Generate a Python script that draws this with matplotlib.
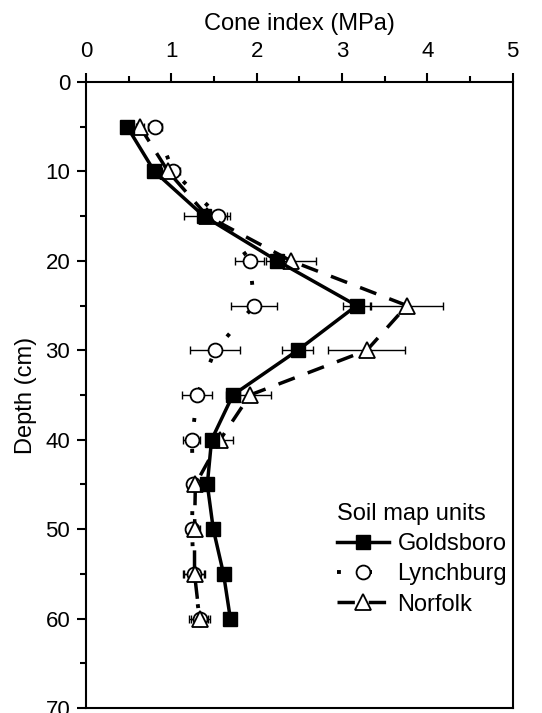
import matplotlib
matplotlib.use("Agg")
import matplotlib.pyplot as plt
from matplotlib.ticker import MultipleLocator

plt.rcParams["font.family"] = ["Liberation Sans", "DejaVu Sans"]

depth = [5, 10, 15, 20, 25, 30, 35, 40, 45, 50, 55, 60]

goldsboro = [0.48, 0.80, 1.38, 2.24, 3.17, 2.48, 1.72, 1.47, 1.42, 1.49, 1.61, 1.69]
goldsboro_err = [0.03, 0.03, 0.06, 0.06, 0.16, 0.18, 0.08, 0.04, 0.03, 0.03, 0.03, 0.03]

lynchburg = [0.81, 1.02, 1.55, 1.92, 1.97, 1.51, 1.30, 1.24, 1.25, 1.24, 1.26, 1.33]
lynchburg_err = [0.08, 0.08, 0.10, 0.17, 0.27, 0.29, 0.18, 0.10, 0.05, 0.07, 0.12, 0.10]

norfolk = [0.63, 0.96, 1.42, 2.40, 3.76, 3.29, 1.92, 1.57, 1.28, 1.27, 1.27, 1.33]
norfolk_err = [0.05, 0.07, 0.27, 0.29, 0.42, 0.45, 0.25, 0.15, 0.06, 0.06, 0.12, 0.12]


def main():
    fig = plt.figure(figsize=(5.42, 7.13), dpi=100)
    ax = fig.add_axes([0.159, 0.007, 0.787, 0.878])

    ax.errorbar(lynchburg, depth, xerr=lynchburg_err, fmt="none", ecolor="black",
                elinewidth=1, capsize=3, capthick=1, zorder=2)
    ax.errorbar(norfolk, depth, xerr=norfolk_err, fmt="none", ecolor="black",
                elinewidth=1, capsize=3, capthick=1, zorder=2)
    ax.errorbar(goldsboro, depth, xerr=goldsboro_err, fmt="none", ecolor="black",
                elinewidth=1, capsize=3, capthick=1, zorder=2)

    ax.plot(lynchburg, depth, color="black", linestyle=(0, (1, 7)), linewidth=2.8,
            marker="o", markersize=10, markerfacecolor="white", markeredgecolor="black",
            markeredgewidth=1.3, label="Lynchburg", zorder=3)
    ax.plot(norfolk, depth, color="black", linestyle=(0, (5, 4)), linewidth=2.5,
            marker="^", markersize=11, markerfacecolor="white", markeredgecolor="black",
            markeredgewidth=1.3, label="Norfolk", zorder=4)
    ax.plot(goldsboro, depth, color="black", linestyle="-", linewidth=2.5,
            marker="s", markersize=10, markerfacecolor="black", markeredgecolor="black",
            label="Goldsboro", zorder=5)

    ax.set_xlim(0, 5)
    ax.set_ylim(70, 0)
    ax.xaxis.set_major_locator(MultipleLocator(1))
    ax.xaxis.set_minor_locator(MultipleLocator(0.5))
    ax.yaxis.set_major_locator(MultipleLocator(10))
    ax.yaxis.set_minor_locator(MultipleLocator(5))
    ax.xaxis.tick_top()
    ax.xaxis.set_label_position("top")
    ax.tick_params(which="both", direction="out", width=1.5, labelsize=16,
                   top=True, bottom=False, left=True, right=False)
    ax.tick_params(which="major", length=6.5)
    ax.tick_params(which="minor", length=4.5)
    ax.tick_params(axis="x", which="major", pad=8)
    ax.tick_params(axis="y", which="major", pad=5)
    for s in ax.spines.values():
        s.set_linewidth(1.5)

    ax.set_xlabel("Cone index (MPa)", fontsize=17, labelpad=8)
    ax.set_ylabel("Depth (cm)", fontsize=17, labelpad=6)

    handles, labels = ax.get_legend_handles_labels()
    order = [2, 0, 1]
    leg = ax.legend([handles[i] for i in order], [labels[i] for i in order],
                    title="Soil map units", frameon=False, fontsize=17,
                    title_fontsize=17, loc="lower right", bbox_to_anchor=(1.02, 0.125),
                    handlelength=2.2, handletextpad=0.35, borderaxespad=0.2,
                    labelspacing=0.35)
    leg._legend_box.align = "left"

    plt.savefig("out.png", dpi=100)
    plt.close()


if __name__ == "__main__":
    main()
